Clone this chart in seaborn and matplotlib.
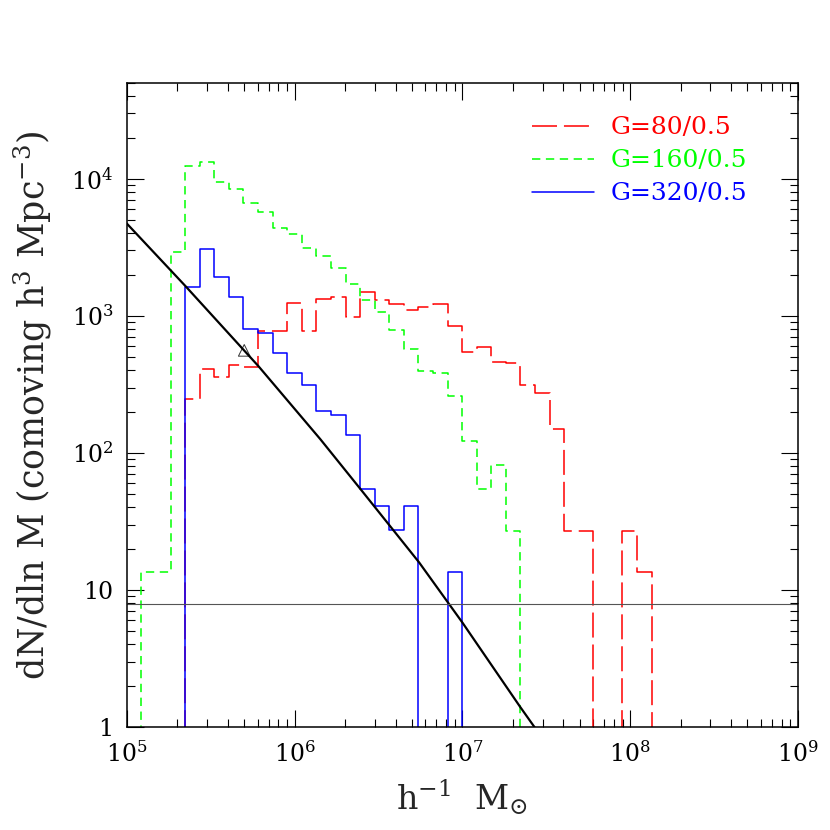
import numpy as np
import pandas as pd
import matplotlib
matplotlib.use("Agg")
import matplotlib.pyplot as plt
import seaborn as sns

# bin edges in log10(M / h^-1 Msun), bins of width dln M = 0.2
edges_log10 = [5.086, 5.173, 5.260, 5.347, 5.434, 5.521, 5.608, 5.694, 5.781,
               5.868, 5.955, 6.042, 6.129, 6.216, 6.303, 6.389, 6.476, 6.563,
               6.650, 6.737, 6.824, 6.911, 6.998, 7.084, 7.171, 7.258, 7.345,
               7.432, 7.519, 7.606, 7.693, 7.780, 7.866, 7.953, 8.040, 8.127,
               8.214]

# dN/dln M per bin, *_start = index of the first bin in edges_log10
g80_start = 3
g80_vals = [247, 408, 357, 439, 422, 781, 781, 1238, 781, 1331, 1383, 988,
            1500, 1309, 1223, 1106, 1157, 1223, 845, 549, 597, 464, 452, 314,
            273, 150, 27, 27, 0, 0, 27, 13.6]
g160_start = 0
g160_vals = [13.6, 13.6, 2900, 12400, 13150, 9400, 8400, 6650, 5680, 4360,
             3970, 3150, 2740, 2250, 1710, 1309, 1064, 790, 574, 399, 382, 258,
             122, 54.6, 81, 27]
g320_start = 3
g320_vals = [1636, 3098, 1936, 1383, 804, 755, 540, 382, 314, 203, 189, 136,
             54.4, 40.8, 27.2, 40.8, 0, 0, 13.6]

labels = ["G=80/0.5", "G=160/0.5", "G=320/0.5"]
colors = ["#ff0000", "#00ff00", "#0000ff"]

# analytic mass function curve
fit_mass = [1.0e5, 2.24e5, 6.07e5, 1.42e6, 2.47e6, 5.51e6, 1.0e7, 2.2e7, 2.7e7]
fit_dndlnm = [4700, 1640, 430, 126, 54.3, 15.9, 5.77, 1.41, 0.99]

point_mass = [5.0e5]
point_dndlnm = [560]

floor_level = 7.9


def stairs(start, vals):
    e = 10 ** np.array(edges_log10[start:start + len(vals) + 1])
    x = np.concatenate([[e[0]], e[:-1], [e[-1]]])
    y = np.concatenate([[0.0], vals, [0.0]])
    return pd.DataFrame({"M": x, "dndlnm": y})


sns.set_style("ticks")
plt.rcParams["font.family"] = ["DejaVu Serif"]
plt.rcParams["mathtext.fontset"] = "dejavuserif"
plt.rcParams["lines.scale_dashes"] = False

fig = plt.figure(figsize=(8.3, 8.3), dpi=100)
ax = fig.add_axes([0.153, 0.1241, 0.8084, 0.7759])

series = [(g80_start, g80_vals, (0, (18, 5))),
          (g160_start, g160_vals, (0, (6, 4))),
          (g320_start, g320_vals, "-")]
for (start, vals, ls), lab, col in zip(series, labels, colors):
    sns.lineplot(data=stairs(start, vals), x="M", y="dndlnm", ax=ax,
                 sort=False, estimator=None, drawstyle="steps-post",
                 color=col, linestyle=ls, linewidth=1.1, label=lab,
                 legend=False)

sns.lineplot(x=fit_mass, y=fit_dndlnm, ax=ax, sort=False, estimator=None,
             color="black", linewidth=1.6, legend=False)
sns.scatterplot(x=point_mass, y=point_dndlnm, ax=ax, marker="^", s=70,
                facecolor="none", edgecolor="#333333", linewidth=0.7,
                legend=False)
ax.axhline(floor_level, color="#555555", linewidth=0.8)

ax.set_xscale("log")
ax.set_yscale("log")
ax.set_xlim(1e5, 1e9)
ax.set_ylim(1, 5e4)

ax.set_xticks([1e5, 1e6, 1e7, 1e8, 1e9],
              [r"$10^5$", r"$10^6$", r"$10^7$", r"$10^8$", r"$10^9$"])
ax.set_yticks([1, 10, 100, 1000, 10000],
              ["1", "10", r"$10^2$", r"$10^3$", r"$10^4$"])
ax.tick_params(which="both", direction="in", top=True, right=True,
               colors="black", width=0.8)
ax.tick_params(which="major", length=12.5, labelsize=17, pad=10)
ax.tick_params(which="minor", length=6)
for sp in ax.spines.values():
    sp.set_linewidth(1.1)
    sp.set_color("black")

ax.set_xlabel(r"h$^{-1}$  M$_{\odot}$", fontsize=24, labelpad=8)
ax.set_ylabel(r"dN/dln M (comoving h$^3$ Mpc$^{-3}$)", fontsize=25,
              labelpad=12)

leg = ax.legend(loc="upper left", bbox_to_anchor=(0.6036, 0.948),
                frameon=False, fontsize=18, handlelength=2.5,
                handletextpad=0.65, labelspacing=0.4, borderpad=0,
                borderaxespad=0, labelcolor="linecolor")

fig.savefig("out.png", dpi=100)
